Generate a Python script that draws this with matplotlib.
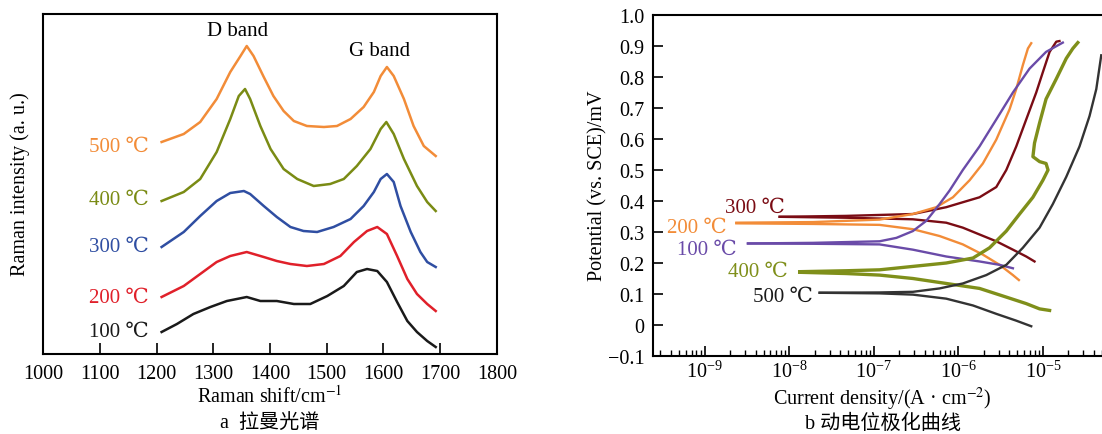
import numpy as np
import matplotlib
matplotlib.use("Agg")
from matplotlib import pyplot as plt
from matplotlib.ticker import LogLocator, NullFormatter, FixedLocator

plt.rcParams['font.family'] = ['Liberation Serif', 'DejaVu Serif', 'Noto Sans CJK SC']
plt.rcParams['mathtext.fontset'] = 'stix'
plt.rcParams['axes.unicode_minus'] = True

# ---- panel a: Raman spectra (shift in cm-1, intensity in a.u.)
shift_500 = [1209, 1248, 1277, 1306, 1330, 1348, 1359, 1371, 1389, 1406, 1424, 1442, 1465,
             1495, 1518, 1542, 1565, 1583, 1595, 1606, 1618, 1636, 1653, 1671, 1692]
int_500 = [212, 220, 232, 255, 282, 298, 308, 298, 277, 258, 243, 233, 228,
           227, 228, 235, 247, 262, 278, 287, 278, 255, 228, 208, 198]
shift_400 = [1209, 1248, 1277, 1306, 1330, 1345, 1356, 1365, 1383, 1401, 1424, 1448,
             1477, 1506, 1530, 1553, 1577, 1595, 1605, 1618, 1636, 1659, 1677, 1692]
int_400 = [153, 162, 175, 202, 235, 258, 265, 255, 228, 205, 185, 175,
           168, 170, 175, 188, 205, 225, 232, 220, 195, 168, 152, 143]
shift_300 = [1209, 1248, 1277, 1306, 1330, 1354, 1365, 1389, 1412, 1436, 1459, 1483,
             1512, 1542, 1565, 1583, 1595, 1606, 1618, 1630, 1648, 1665, 1677, 1692]
int_300 = [107, 122, 138, 153, 161, 163, 160, 148, 137, 127, 123, 122,
           127, 135, 148, 162, 175, 180, 172, 148, 122, 102, 92, 87]
shift_200 = [1209, 1248, 1277, 1306, 1330, 1359, 1389, 1412, 1436, 1465, 1495,
             1524, 1548, 1571, 1589, 1606, 1624, 1642, 1659, 1677, 1692]
int_200 = [57, 68, 80, 92, 98, 102, 97, 93, 90, 88, 90,
           98, 112, 123, 127, 120, 98, 75, 60, 50, 43]
shift_100 = [1209, 1236, 1265, 1295, 1324, 1359, 1383, 1412, 1442, 1471, 1501,
             1530, 1553, 1571, 1589, 1606, 1624, 1642, 1659, 1677, 1692]
int_100 = [22, 30, 40, 47, 53, 57, 53, 53, 50, 50, 58,
           68, 82, 85, 83, 72, 52, 33, 22, 13, 7]

raman_labels = ['500 ℃', '400 ℃', '300 ℃', '200 ℃', '100 ℃']
raman_colors = ['#F28C38', '#7A8B14', '#2F4EA2', '#E0202A', '#1A1A1A']

# ---- panel b: polarization curves (current density A/cm2, potential V)
a300_i = [7.71e-9, 4.73e-8, 2.90e-7, 7.19e-7, 1.13e-6, 1.78e-6, 2.81e-6, 3.69e-6, 4.84e-6,
          6.35e-6, 8.34e-6, 1.00e-5, 1.20e-5, 1.44e-5, 1.57e-5]
a300_v = [0.349, 0.352, 0.358, 0.380, 0.396, 0.412, 0.445, 0.500, 0.576,
          0.663, 0.750, 0.816, 0.881, 0.914, 0.916]
c300_i = [7.71e-9, 4.73e-8, 2.90e-7, 7.19e-7, 1.13e-6, 1.78e-6, 2.81e-6, 4.42e-6, 6.35e-6, 7.96e-6]
c300_v = [0.349, 0.346, 0.341, 0.330, 0.314, 0.292, 0.270, 0.243, 0.221, 0.205]

a200_i = [2.37e-9, 1.91e-8, 1.17e-7, 2.90e-7, 5.48e-7, 8.63e-7, 1.36e-6, 1.95e-6, 2.81e-6,
          4.04e-6, 4.84e-6, 5.79e-6, 6.65e-6, 7.28e-6]
a200_v = [0.330, 0.332, 0.340, 0.358, 0.380, 0.412, 0.467, 0.521, 0.598,
          0.696, 0.761, 0.838, 0.892, 0.909]
c200_i = [2.37e-9, 1.91e-8, 1.17e-7, 2.90e-7, 6.00e-7, 1.13e-6, 1.95e-6, 3.08e-6, 4.42e-6, 5.20e-6]
c200_v = [0.328, 0.326, 0.323, 0.309, 0.287, 0.260, 0.227, 0.194, 0.161, 0.145]

a100_i = [3.25e-9, 1.91e-8, 1.17e-7, 1.85e-7, 2.90e-7, 4.18e-7, 6.00e-7, 7.89e-7, 1.13e-6,
          1.78e-6, 2.81e-6, 4.42e-6, 6.95e-6, 1.09e-5, 1.72e-5]
a100_v = [0.263, 0.265, 0.270, 0.281, 0.303, 0.336, 0.390, 0.434, 0.500,
          0.576, 0.663, 0.750, 0.827, 0.881, 0.911]
c100_i = [3.25e-9, 1.91e-8, 1.17e-7, 2.90e-7, 7.19e-7, 1.78e-6, 3.08e-6, 4.42e-6]
c100_v = [0.263, 0.262, 0.260, 0.243, 0.221, 0.205, 0.194, 0.183]

a400_i = [1.33e-8, 4.73e-8, 1.17e-7, 2.90e-7, 7.19e-7, 1.49e-6, 2.34e-6, 3.69e-6, 5.30e-6,
          7.62e-6, 1.00e-5, 1.15e-5, 1.09e-5, 9.14e-6, 7.62e-6, 7.96e-6, 9.14e-6, 1.09e-5,
          1.44e-5, 1.89e-5, 2.26e-5, 2.59e-5]
a400_v = [0.172, 0.175, 0.178, 0.189, 0.200, 0.216, 0.249, 0.303, 0.358,
          0.412, 0.467, 0.500, 0.521, 0.527, 0.543, 0.587, 0.652, 0.729,
          0.794, 0.860, 0.892, 0.911]
c400_i = [1.33e-8, 4.73e-8, 1.17e-7, 2.90e-7, 7.19e-7, 1.78e-6, 3.69e-6, 6.35e-6, 9.14e-6, 1.20e-5]
c400_v = [0.170, 0.166, 0.161, 0.150, 0.134, 0.118, 0.090, 0.069, 0.052, 0.047]

a500_i = [2.29e-8, 1.17e-7, 2.90e-7, 6.00e-7, 1.13e-6, 2.14e-6, 3.69e-6, 5.79e-6, 9.14e-6,
          1.31e-5, 1.89e-5, 2.71e-5, 3.56e-5, 4.28e-5, 4.90e-5]
a500_v = [0.104, 0.105, 0.107, 0.118, 0.134, 0.161, 0.194, 0.249, 0.314,
          0.390, 0.478, 0.576, 0.674, 0.761, 0.870]
c500_i = [2.29e-8, 1.17e-7, 2.90e-7, 7.19e-7, 1.49e-6, 2.81e-6, 4.84e-6, 7.28e-6]
c500_v = [0.104, 0.102, 0.098, 0.085, 0.063, 0.036, 0.014, -0.004]

pol_colors = {'300': '#7A0C14', '200': '#F28C38', '100': '#6A4BA8', '400': '#7F8F1A', '500': '#333333'}

FS = 14.5

fig = plt.figure(figsize=(11.02, 4.35), dpi=100)

# ================= panel a
ax1 = fig.add_axes([43 / 1102, 1 - 355 / 435, 454 / 1102, 340 / 435])
spectra = [(shift_500, int_500), (shift_400, int_400), (shift_300, int_300),
           (shift_200, int_200), (shift_100, int_100)]
for (s, y), c in zip(spectra, raman_colors):
    ax1.plot(s, y, color=c, lw=1.8)
ax1.set_xlim(1000, 1800)
ax1.set_ylim(0, 340)
ax1.set_xticks(np.arange(1000, 1801, 100))
ax1.set_yticks([])
ax1.tick_params(axis='x', direction='in', length=8, width=1.2, labelsize=FS, pad=7)
for sp in ax1.spines.values():
    sp.set_linewidth(1.5)

label_y = [208, 155, 108, 57, 23]
for lab, yy, c in zip(raman_labels, label_y, raman_colors):
    ax1.text(1187, yy, lab, color=c, fontsize=FS + 0.5, ha='right', va='center')
ax1.text(1342, 323, 'D band', fontsize=FS + 0.5, ha='center', va='center')
ax1.text(1593, 303, 'G band', fontsize=FS + 0.5, ha='center', va='center')

fig.text(20 / 1102, 1 - 184 / 435, 'Raman intensity (a. u.)', rotation=90,
         ha='center', va='center', fontsize=FS)
fig.text(270 / 1102, 1 - 397 / 435, 'Raman shift/cm$^{-1}$', ha='center', va='center', fontsize=FS)
fig.text(270 / 1102, 1 - 423 / 435, 'a  拉曼光谱', ha='center', va='center', fontsize=FS)

# ================= panel b
ax2 = fig.add_axes([653 / 1102, 1 - 357 / 435, 449 / 1102, 341 / 435])
curves = [('300', a300_i, a300_v, c300_i, c300_v),
          ('200', a200_i, a200_v, c200_i, c200_v),
          ('100', a100_i, a100_v, c100_i, c100_v),
          ('400', a400_i, a400_v, c400_i, c400_v),
          ('500', a500_i, a500_v, c500_i, c500_v)]
for key, ai, av, ci, cv in curves:
    lw = 2.4 if key == '400' else 1.7
    ax2.plot(ai, av, color=pol_colors[key], lw=lw)
    ax2.plot(ci, cv, color=pol_colors[key], lw=lw)

ax2.set_xscale('log')
ax2.set_xlim(2.45e-10, 5.0e-5)
ax2.set_ylim(-0.1, 1.0)
ax2.xaxis.set_major_locator(FixedLocator([1e-9, 1e-8, 1e-7, 1e-6, 1e-5]))
ax2.xaxis.set_minor_locator(LogLocator(base=10, subs=np.arange(2, 10)))
ax2.xaxis.set_minor_formatter(NullFormatter())
yt = np.round(np.arange(-0.1, 1.01, 0.1), 1)
ax2.set_yticks(yt)
ax2.set_yticklabels(['0' if v == 0 else ('\u22120.1' if v < 0 else f'{v:.1f}') for v in yt])
ax2.tick_params(axis='both', which='major', direction='in', length=7, width=1.2,
                labelsize=FS, pad=6)
ax2.tick_params(axis='x', which='major', pad=3)
ax2.tick_params(axis='x', which='minor', direction='in', length=4, width=1.0)
ax2.spines['right'].set_visible(False)
for sp in ['left', 'top', 'bottom']:
    ax2.spines[sp].set_linewidth(1.5)

ax2.text(8.85e-9, 0.38, '300 ℃', color=pol_colors['300'], fontsize=FS + 0.5, ha='right', va='center')
ax2.text(1.82e-9, 0.314, '200 ℃', color=pol_colors['200'], fontsize=FS + 0.5, ha='right', va='center')
ax2.text(2.4e-9, 0.245, '100 ℃', color=pol_colors['100'], fontsize=FS + 0.5, ha='right', va='center')
ax2.text(9.55e-9, 0.173, '400 ℃', color=pol_colors['400'], fontsize=FS + 0.5, ha='right', va='center')
ax2.text(1.9e-8, 0.092, '500 ℃', color='#1A1A1A', fontsize=FS + 0.5, ha='right', va='center')

fig.text(598 / 1102, 1 - 186 / 435, 'Potential (vs. SCE)/mV', rotation=90,
         ha='center', va='center', fontsize=FS)
fig.text(882 / 1102, 1 - 399 / 435, 'Current density/(A · cm$^{-2}$)', ha='center', va='center', fontsize=FS)
fig.text(883 / 1102, 1 - 424 / 435, 'b 动电位极化曲线', ha='center', va='center', fontsize=FS)

fig.savefig('out.png', dpi=100)
